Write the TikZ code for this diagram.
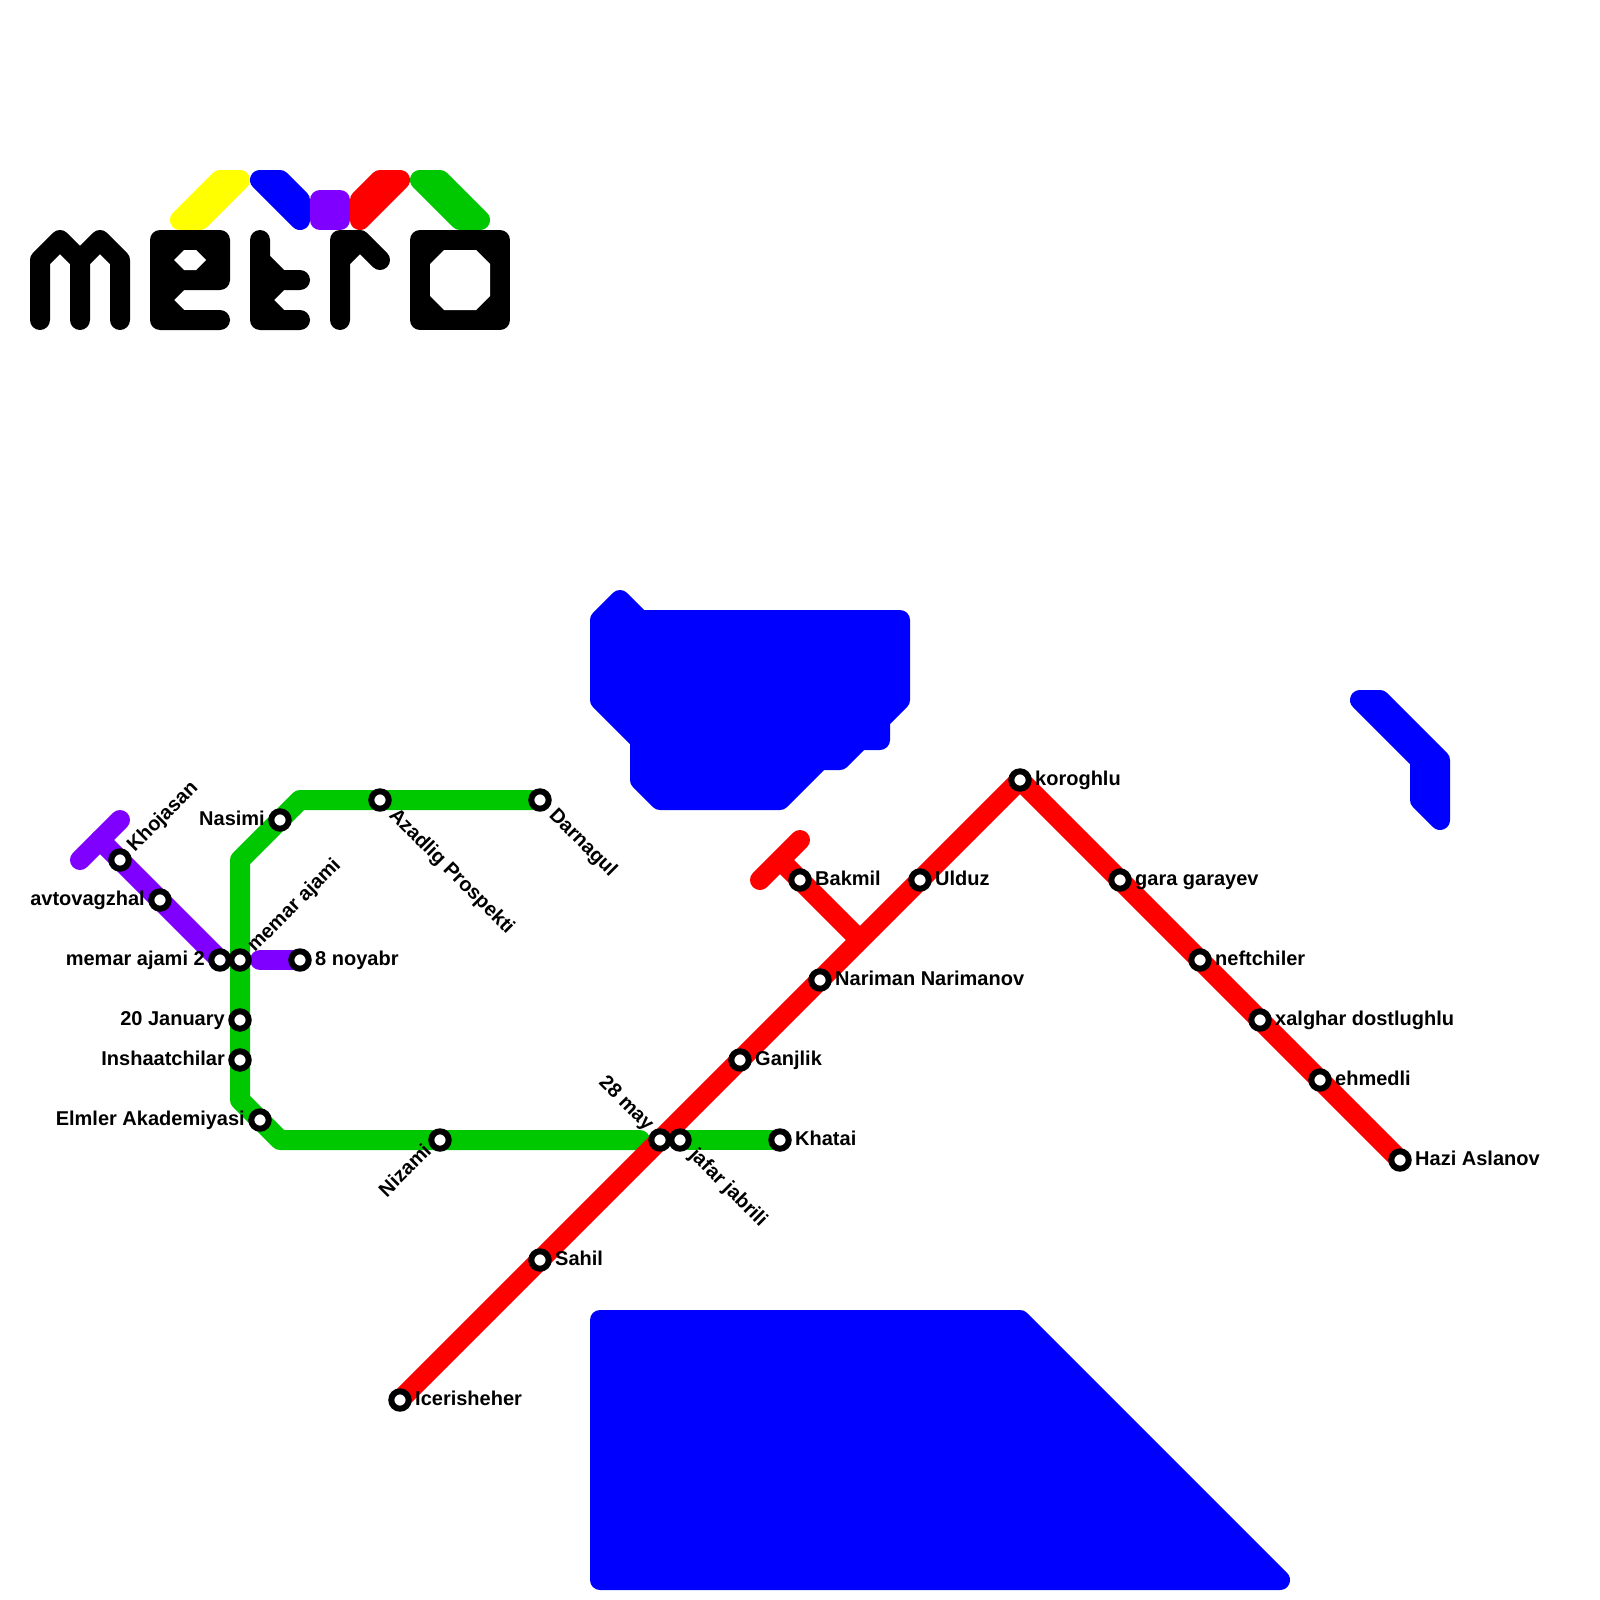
\documentclass[tikz,border=0pt]{standalone}
\usepackage{fontspec}
\setmainfont{Liberation Sans}
\usetikzlibrary{backgrounds}
\definecolor{mblue}{RGB}{0,0,255}
\definecolor{mred}{RGB}{255,0,0}
\definecolor{mgreen}{RGB}{0,200,0}
\definecolor{mpurple}{RGB}{128,0,255}
\definecolor{myellow}{RGB}{255,255,0}
\tikzset{
  x=1pt,y=-1pt,
  stn/.style={circle,draw=black,fill=white,line width=6pt,minimum size=17.4pt,inner sep=0pt,outer sep=0pt},
  lbl/.style={font=\fontsize{20}{20}\selectfont\bfseries,text=black,inner sep=0pt},
  rlbl/.style={lbl,anchor=base west,xshift=15pt,yshift=-5.5pt},
  llbl/.style={lbl,anchor=base east,xshift=-15pt,yshift=-5.5pt},
  uplbl/.style={lbl,anchor=base west,rotate=45,xshift=15.5pt,yshift=-5.5pt},
  dnlbl/.style={lbl,anchor=base west,rotate=-45,xshift=17pt,yshift=-5.5pt},
  nwlbl/.style={lbl,anchor=base east,rotate=-45,xshift=-15.7pt,yshift=-3.7pt},
  swlbl/.style={lbl,anchor=base east,rotate=45,xshift=-14pt,yshift=-3.4pt},
  track/.style={line width=20pt,line cap=round,line join=round},
  blob/.style={draw=#1,fill=#1,line width=20pt,line cap=round,line join=round},
}
\begin{document}
\begin{tikzpicture}
\useasboundingbox (0,0) rectangle (1600,1600);
% stations: red line
\node[stn] (iceri) at (400,1400) {}; \node[rlbl] at (iceri.center) {Icerisheher};
\node[stn] (sahil) at (540,1260) {}; \node[rlbl] at (sahil.center) {Sahil};
\node[stn] (may) at (660,1140) {}; \node[nwlbl] at (may.center) {28 may};
\node[stn] (jafar) at (680,1140) {}; \node[dnlbl] at (jafar.center) {jafar jabrili};
\node[stn] (ganj) at (740,1060) {}; \node[rlbl] at (ganj.center) {Ganjlik};
\node[stn] (nari) at (820,980) {}; \node[rlbl] at (nari.center) {Nariman Narimanov};
\node[stn] (ulduz) at (920,880) {}; \node[rlbl] at (ulduz.center) {Ulduz};
\node[stn] (koro) at (1020,780) {}; \node[rlbl] at (koro.center) {koroghlu};
\node[stn] (gara) at (1120,880) {}; \node[rlbl] at (gara.center) {gara garayev};
\node[stn] (neft) at (1200,960) {}; \node[rlbl] at (neft.center) {neftchiler};
\node[stn] (xalg) at (1260,1020) {}; \node[rlbl] at (xalg.center) {xalghar dostlughlu};
\node[stn] (ehme) at (1320,1080) {}; \node[rlbl] at (ehme.center) {ehmedli};
\node[stn] (hazi) at (1400,1160) {}; \node[rlbl] at (hazi.center) {Hazi Aslanov};
\node[stn] (bakm) at (800,880) {}; \node[rlbl] at (bakm.center) {Bakmil};
% green line
\node[stn] (khat) at (780,1140) {}; \node[rlbl] at (khat.center) {Khatai};
\node[stn] (niza) at (440,1140) {}; \node[swlbl] at (niza.center) {Nizami};
\node[stn] (elml) at (260,1120) {}; \node[llbl] at (elml.center) {Elmler Akademiyasi};
\node[stn] (insh) at (240,1060) {}; \node[llbl] at (insh.center) {Inshaatchilar};
\node[stn] (janu) at (240,1020) {}; \node[llbl] at (janu.center) {20 January};
\node[stn] (mema) at (240,960) {}; \node[uplbl] at (mema.center) {memar ajami};
\node[stn] (nasi) at (280,820) {}; \node[llbl] at (nasi.center) {Nasimi};
\node[stn] (azad) at (380,800) {}; \node[dnlbl] at (azad.center) {Azadlig Prospekti};
\node[stn] (darn) at (540,800) {}; \node[dnlbl] at (darn.center) {Darnagul};
% purple line
\node[stn] (mem2) at (220,960) {}; \node[llbl] at (mem2.center) {memar ajami 2};
\node[stn] (nshr) at (300,960) {}; \node[rlbl] at (nshr.center) {8 noyabr};
\node[stn] (avto) at (160,900) {}; \node[llbl] at (avto.center) {avtovagzhal};
\node[stn] (khoj) at (120,860) {}; \node[uplbl] at (khoj.center) {Khojasan};
% free ends and bends
\coordinate (rb1) at (780,860); \coordinate (rj) at (860,940);
\coordinate (rt1) at (800,840); \coordinate (rt2) at (760,880);
\coordinate (pt1) at (120,820); \coordinate (pt2) at (80,860); \coordinate (pj) at (100,840);
\coordinate (gb1) at (300,800); \coordinate (gb2) at (240,860); \coordinate (gb3) at (240,1100);
\coordinate (gb4) at (280,1140); \coordinate (ge) at (640,1140); \coordinate (ps) at (260,960);
\begin{pgfonlayer}{background}
  % water
  \path[blob=mblue] (620,600) -- (640,620) -- (900,620) -- (900,700) -- (880,720) -- (880,740)
    -- (860,740) -- (840,760) -- (820,760) -- (780,800) -- (660,800) -- (640,780) -- (640,740)
    -- (600,700) -- (600,620) -- cycle;
  \path[blob=mblue] (600,1320) -- (1020,1320) -- (1280,1580) -- (600,1580) -- cycle;
  \path[blob=mblue] (1360,700) -- (1380,700) -- (1440,760) -- (1440,820) -- (1420,800) -- (1420,760) -- cycle;
  % purple
  \draw[track,mpurple] (pt1) -- (pt2);
  \draw[track,mpurple] (pj) -- (khoj.center) -- (avto.center) -- (mem2.center);
  \draw[track,mpurple] (ps) -- (nshr.center);
  % green
  \draw[track,mgreen] (darn.center) -- (azad.center) -- (gb1) -- (nasi.center) -- (gb2)
    -- (mema.center) -- (janu.center) -- (insh.center) -- (gb3) -- (elml.center) -- (gb4)
    -- (niza.center) -- (ge);
  \draw[track,mgreen] (jafar.center) -- (khat.center);
  % red
  \draw[track,mred] (iceri.center) -- (sahil.center) -- (may.center) -- (ganj.center) -- (nari.center)
    -- (ulduz.center) -- (koro.center) -- (gara.center) -- (neft.center) -- (xalg.center)
    -- (ehme.center) -- (hazi.center);
  \draw[track,mred] (rt1) -- (rt2);
  \draw[track,mred,line cap=butt] (rb1) -- (bakm.center) -- (rj);
  % logo
  \path[blob=myellow] (180,220) -- (200,220) -- (240,180) -- (220,180) -- cycle;
  \path[blob=mblue] (260,180) -- (280,180) -- (300,200) -- (300,220) -- cycle;
  \path[blob=mpurple] (320,200) -- (340,200) -- (340,220) -- (320,220) -- cycle;
  \path[blob=mred] (400,180) -- (380,180) -- (360,200) -- (360,220) -- cycle;
  \path[blob=mgreen] (420,180) -- (440,180) -- (480,220) -- (460,220) -- cycle;
  \draw[track,black] (40,320) -- (40,260) -- (60,240) -- (80,260) -- (80,320);
  \draw[track,black] (80,260) -- (100,240) -- (120,260) -- (120,320);
  \path[blob=black] (160,240) -- (220,240) -- (220,280) -- (180,280) -- (160,300) -- (180,320)
    -- (220,320) -- (160,320) -- cycle;
  \fill[white] (174,260) -- (184,250) -- (196,250) -- (206,260) -- (196,270) -- (184,270) -- cycle;
  \path[blob=black] (260,240) -- (260,260) -- (280,280) -- (300,280) -- (280,280) -- (260,300)
    -- (280,320) -- (300,320) -- (260,320) -- cycle;
  \path[blob=black] (340,320) -- (340,240) -- (360,240) -- (380,260) -- (360,240) -- (340,260) -- cycle;
  \path[blob=black] (420,240) -- (500,240) -- (500,320) -- (420,320) -- cycle;
  \fill[white] (430,264) -- (444,250) -- (476,250) -- (490,264) -- (490,296) -- (476,310)
    -- (444,310) -- (430,296) -- cycle;
\end{pgfonlayer}
\end{tikzpicture}
\end{document}
